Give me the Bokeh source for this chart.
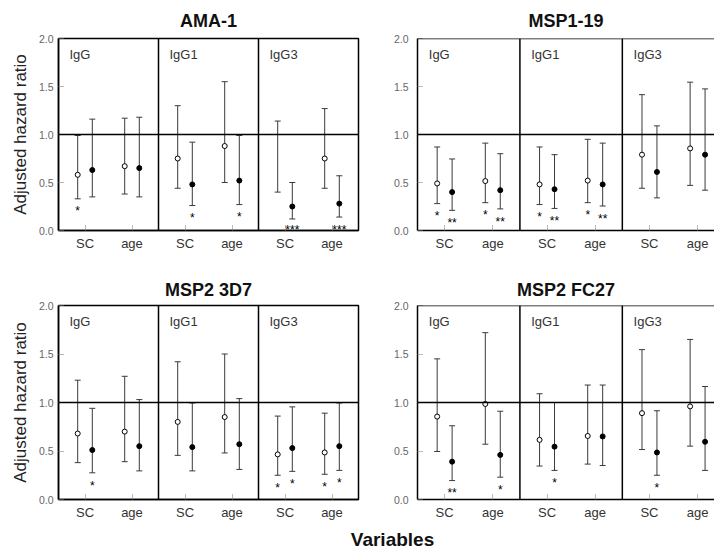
import math
from bokeh.plotting import figure
from bokeh.models import (ColumnDataSource, Whisker, TeeHead, Span, FixedTicker,
                          NumeralTickFormatter, Range1d, Label)
from bokeh.layouts import column, row
from bokeh.embed import file_html
from bokeh.resources import INLINE
from bokeh.core.properties import value

nan = float("nan")
FONT = "Liberation Sans"

subclasses = ["IgG", "IgG1", "IgG3"]
variables = ["SC", "age"]

# order of six entries: IgG-SC, IgG-age, IgG1-SC, IgG1-age, IgG3-SC, IgG3-age
ama1_open_hr = [0.58, 0.67, 0.75, 0.88, nan, 0.75]
ama1_open_lo = [0.33, 0.38, 0.44, 0.50, 0.40, 0.44]
ama1_open_hi = [0.99, 1.17, 1.30, 1.55, 1.14, 1.27]
ama1_fill_hr = [0.63, 0.65, 0.48, 0.52, 0.25, 0.28]
ama1_fill_lo = [0.35, 0.35, 0.26, 0.27, 0.12, 0.14]
ama1_fill_hi = [1.16, 1.18, 0.92, 0.99, 0.50, 0.57]
ama1_open_sig = ["*", "", "", "", "", ""]
ama1_fill_sig = ["", "", "*", "*", "***", "***"]

msp119_open_hr = [0.49, 0.515, 0.48, 0.52, 0.79, 0.855]
msp119_open_lo = [0.28, 0.29, 0.27, 0.29, 0.44, 0.47]
msp119_open_hi = [0.87, 0.91, 0.87, 0.95, 1.415, 1.545]
msp119_fill_hr = [0.40, 0.42, 0.43, 0.48, 0.61, 0.79]
msp119_fill_lo = [0.21, 0.225, 0.23, 0.255, 0.34, 0.42]
msp119_fill_hi = [0.745, 0.80, 0.79, 0.91, 1.09, 1.475]
msp119_open_sig = ["*", "*", "*", "*", "", ""]
msp119_fill_sig = ["**", "**", "**", "**", "", ""]

msp2_3d7_open_hr = [0.68, 0.70, 0.80, 0.85, 0.465, 0.485]
msp2_3d7_open_lo = [0.38, 0.39, 0.455, 0.48, 0.25, 0.26]
msp2_3d7_open_hi = [1.23, 1.27, 1.42, 1.50, 0.86, 0.89]
msp2_3d7_fill_hr = [0.51, 0.55, 0.54, 0.57, 0.53, 0.55]
msp2_3d7_fill_lo = [0.275, 0.295, 0.295, 0.31, 0.29, 0.30]
msp2_3d7_fill_hi = [0.94, 1.03, 0.995, 1.04, 0.955, 0.995]
msp2_3d7_open_sig = ["", "", "", "", "*", "*"]
msp2_3d7_fill_sig = ["*", "", "", "", "*", "*"]

msp2_fc27_open_hr = [0.855, 0.985, 0.615, 0.655, 0.89, 0.96]
msp2_fc27_open_lo = [0.495, 0.57, 0.345, 0.365, 0.515, 0.55]
msp2_fc27_open_hi = [1.45, 1.72, 1.09, 1.18, 1.545, 1.65]
msp2_fc27_fill_hr = [0.39, 0.46, 0.545, 0.65, 0.485, 0.595]
msp2_fc27_fill_lo = [0.195, 0.23, 0.30, 0.35, 0.25, 0.30]
msp2_fc27_fill_hi = [0.76, 0.91, 1.00, 1.18, 0.915, 1.165]
msp2_fc27_open_sig = ["", "", "", "", "", ""]
msp2_fc27_fill_sig = ["**", "*", "*", "", "*", ""]

y_ticks = [0.0, 0.5, 1.0, 1.5, 2.0]

panels = [
    ("AMA-1", ama1_open_hr, ama1_open_lo, ama1_open_hi, ama1_fill_hr, ama1_fill_lo,
     ama1_fill_hi, ama1_open_sig, ama1_fill_sig),
    ("MSP1-19", msp119_open_hr, msp119_open_lo, msp119_open_hi, msp119_fill_hr,
     msp119_fill_lo, msp119_fill_hi, msp119_open_sig, msp119_fill_sig),
    ("MSP2 3D7", msp2_3d7_open_hr, msp2_3d7_open_lo, msp2_3d7_open_hi, msp2_3d7_fill_hr,
     msp2_3d7_fill_lo, msp2_3d7_fill_hi, msp2_3d7_open_sig, msp2_3d7_fill_sig),
    ("MSP2 FC27", msp2_fc27_open_hr, msp2_fc27_open_lo, msp2_fc27_open_hi, msp2_fc27_fill_hr,
     msp2_fc27_fill_lo, msp2_fc27_fill_hi, msp2_fc27_open_sig, msp2_fc27_fill_sig),
]

CENTERS = [0.265, 0.735]
DODGE = 0.073
BAR_COLOR = "#3a3a3a"


def make_panel(spec, is_left, is_top):
    name, o_hr, o_lo, o_hi, f_hr, f_lo, f_hi, o_sig, f_sig = spec
    xend = 3.0 if is_left else 2.9
    p = figure(width=363 if is_left else 351, height=272 if is_top else 250,
               x_range=Range1d(0, xend), y_range=Range1d(0, 2.0),
               output_backend="svg", toolbar_location=None,
               min_border_left=58 if is_left else 54, min_border_right=5 if is_left else 0,
               min_border_top=37 if is_top else 33, min_border_bottom=42 if is_top else 23,
               background_fill_color="white", border_fill_color="white")
    p.xgrid.visible = False
    p.ygrid.visible = False
    if is_left:
        p.outline_line_color = "black"
        p.outline_line_width = 1.5
    else:
        p.outline_line_color = None
        p.add_layout(Span(location=2.0, dimension="width", line_color="black", line_width=1.5))

    p.title.text = name
    p.title.align = "center"
    p.title.text_font = FONT
    p.title.text_font_size = "18px"
    p.title.text_font_style = "bold"
    p.title.text_color = "#111111"
    p.title.standoff = 16 if is_top else 11

    base = [i + c for i in range(len(subclasses)) for c in CENTERS]
    labels = {b: variables[k % 2] for k, b in enumerate(base)}

    xa = p.xaxis[0]
    xa.ticker = FixedTicker(ticks=base)
    xa.major_label_overrides = labels
    xa.major_tick_in = 6
    xa.major_tick_out = 0
    xa.major_tick_line_color = "#777777"
    xa.major_tick_line_dash = "1 1"
    xa.minor_tick_line_color = None
    xa.axis_line_color = "black"
    xa.axis_line_width = 1.5
    xa.major_label_text_font = FONT
    xa.major_label_text_font_size = "13px"
    xa.major_label_text_color = "#333333"
    xa.major_label_standoff = 5

    ya = p.yaxis[0]
    ya.ticker = FixedTicker(ticks=y_ticks)
    ya.formatter = NumeralTickFormatter(format="0.0")
    ya.major_tick_in = 5
    ya.major_tick_out = 0
    ya.major_tick_line_color = "#777777"
    ya.major_tick_line_dash = "1 1"
    ya.minor_tick_line_color = None
    ya.axis_line_color = "black"
    ya.axis_line_width = 1.5
    ya.major_label_text_font = FONT
    ya.major_label_text_font_size = "10.5px"
    ya.major_label_text_color = "#666666"
    ya.major_label_standoff = 5 if is_left else 9
    if is_left:
        ya.axis_label = "Adjusted hazard ratio"
        ya.axis_label_text_font = FONT
        ya.axis_label_text_font_size = "17px"
        ya.axis_label_text_font_style = "normal"
        ya.axis_label_text_color = "#222222"
        ya.axis_label_standoff = 6

    # sub-panel dividers and reference line at HR = 1
    for i in range(1, len(subclasses)):
        p.add_layout(Span(location=i, dimension="height", line_color="black", line_width=1.5))
    p.add_layout(Span(location=1.0, dimension="width", line_color="black", line_width=1.5))

    # sub-panel labels
    lab_src = ColumnDataSource(dict(x=[i + 0.11 for i in range(len(subclasses))],
                                    y=[2.0] * len(subclasses), t=subclasses))
    p.text(x="x", y="y", text="t", source=lab_src, text_font=value(FONT),
           text_font_size="13px", text_color="#333333", text_baseline="top",
           text_align="left", y_offset=8)

    for hr, lo, hi, sig, shift, fill in ((o_hr, o_lo, o_hi, o_sig, -DODGE, "white"),
                                         (f_hr, f_lo, f_hi, f_sig, DODGE, "black")):
        xs = [b + shift for b in base]
        src = ColumnDataSource(dict(x=xs, hr=hr, lo=lo, hi=hi, sig=sig,
                                    sy=[max(l - 0.1, 0.04) for l in lo]))
        w = Whisker(base="x", upper="hi", lower="lo", source=src, dimension="height",
                    line_color=BAR_COLOR, line_width=1,
                    upper_head=TeeHead(size=6, line_color=BAR_COLOR, line_width=1),
                    lower_head=TeeHead(size=6, line_color=BAR_COLOR, line_width=1))
        p.add_layout(w)
        p.scatter(x="x", y="hr", source=src, marker="circle", size=5,
                  fill_color=fill, line_color="black", line_width=1)
        p.text(x="x", y="sy", text="sig", source=src, text_font=value(FONT),
               text_font_size="12px", text_color="black", text_align="center",
               text_baseline="middle", y_offset=3)
    return p


p1 = make_panel(panels[0], True, True)
p2 = make_panel(panels[1], False, True)
p3 = make_panel(panels[2], True, False)
p4 = make_panel(panels[3], False, False)

foot = figure(width=714, height=30, x_range=Range1d(0, 714), y_range=Range1d(0, 30),
              output_backend="svg", toolbar_location=None, min_border=0,
              outline_line_color=None)
foot.axis.visible = False
foot.xgrid.visible = False
foot.ygrid.visible = False
foot.add_layout(Label(x=392, y=13, text="Variables", text_font=FONT, text_font_size="19px",
                      text_font_style="bold", text_color="#111111", text_align="center",
                      text_baseline="middle"))

layout = column(row(p1, p2), row(p3, p4), foot)

with open("out.html", "w") as f:
    f.write(file_html(layout, INLINE))
